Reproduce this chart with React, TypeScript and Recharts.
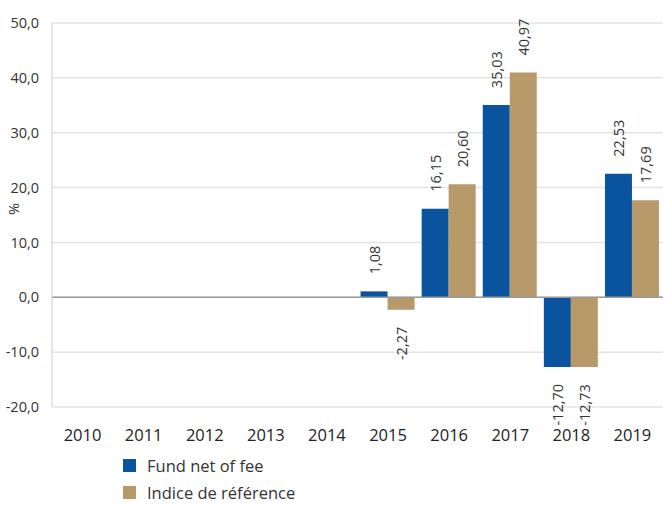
import React from 'react';
import { BarChart, Bar, XAxis, YAxis, CartesianGrid, Legend, ReferenceLine, LabelList } from 'recharts';

const years = ['2010', '2011', '2012', '2013', '2014', '2015', '2016', '2017', '2018', '2019'];
const fundNetOfFee = [null, null, null, null, null, 1.08, 16.15, 35.03, -12.7, 22.53];
const indiceReference = [null, null, null, null, null, -2.27, 20.6, 40.97, -12.73, 17.69];
const yTicks = [-20, -10, 0, 10, 20, 30, 40, 50];

const BLUE = '#0a549f';
const TAN = '#b8996a';
const FONT = '"Open Sans", sans-serif';

const data = years.map((year, i) => ({
  year,
  fund: fundNetOfFee[i],
  index: indiceReference[i],
}));

const fmt = (v: number, digits: number) => v.toFixed(digits).replace('.', ',');

const BarValueLabel = (props: any) => {
  const { x, y, width, height, value } = props;
  if (value === null || value === undefined) return null;
  const top = Math.min(y, y + height);
  const bottom = Math.max(y, y + height);
  const cx = x + width / 2;
  const positive = value >= 0;
  const ay = positive ? top - 17 : bottom + 17;
  return (
    <text
      x={cx}
      y={ay}
      transform={`rotate(-90, ${cx}, ${ay})`}
      textAnchor={positive ? 'start' : 'end'}
      dominantBaseline="central"
      fontSize={14.5}
      fontFamily={FONT}
      fill="#333"
    >
      {fmt(value, 2)}
    </text>
  );
};

const LegendContent = () => (
  <div style={{ height: 58, fontFamily: FONT, fontSize: 16.5, color: '#333' }}>
    {[
      { name: 'Fund net of fee', color: BLUE },
      { name: 'Indice de référence', color: TAN },
    ].map((item) => (
      <div key={item.name} style={{ display: 'flex', alignItems: 'center', height: 27 }}>
        <span style={{ width: 13, height: 13, background: item.color, display: 'inline-block', marginRight: 11 }} />
        <span>{item.name}</span>
      </div>
    ))}
  </div>
);

export default function App() {
  return (
    <div style={{ position: 'absolute', left: 0, top: 0, width: 663, height: 505, background: '#fff' }}>
      <BarChart
        width={663}
        height={505}
        data={data}
        margin={{ top: 23, right: 0, left: 0, bottom: 0 }}
        barCategoryGap="5%"
        barGap={0}
      >
        <CartesianGrid vertical={false} stroke="#e4e4e4" strokeWidth={1.5} />
        <XAxis
          dataKey="year"
          height={40}
          axisLine={false}
          tickLine={false}
          tickMargin={16}
          tick={{ fontSize: 16.5, fill: '#222', fontFamily: FONT }}
        />
        <YAxis
          width={52}
          domain={[-20, 50]}
          ticks={yTicks}
          interval={0}
          axisLine={{ stroke: '#cccccc' }}
          tickLine={false}
          tickMargin={7}
          tickFormatter={(v: number) => fmt(v, 1)}
          tick={{ fontSize: 14.5, fill: '#333', fontFamily: FONT }}
          label={{ value: '%', angle: -90, position: 'insideLeft', dx: 9, fontSize: 14.5, fill: '#333', fontFamily: FONT }}
        />
        <Legend
          verticalAlign="bottom"
          align="left"
          layout="horizontal"
          content={<LegendContent />}
          wrapperStyle={{ left: 123, bottom: -5, width: 300 }}
        />
        <ReferenceLine y={0} stroke="#9a9a9a" strokeWidth={1.5} />
        <Bar dataKey="fund" name="Fund net of fee" fill={BLUE} isAnimationActive={false}>
          <LabelList dataKey="fund" content={<BarValueLabel />} />
        </Bar>
        <Bar dataKey="index" name="Indice de référence" fill={TAN} isAnimationActive={false}>
          <LabelList dataKey="index" content={<BarValueLabel />} />
        </Bar>
      </BarChart>
    </div>
  );
}
